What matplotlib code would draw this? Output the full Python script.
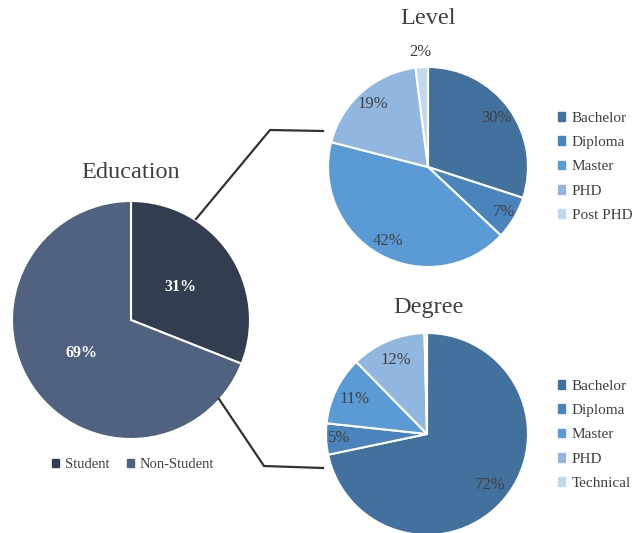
import numpy as np
import matplotlib.pyplot as plt
from matplotlib.lines import Line2D
from matplotlib.patches import Patch

plt.rcParams['font.family'] = ['Liberation Serif', 'DejaVu Serif']

# education split
edu_labels = ['Student', 'Non-Student']
edu_values = [31, 69]
edu_colors = ['#323e50', '#506280']

# level of students
level_labels = ['Bachelor', 'Diploma', 'Master', 'PHD', 'Post PHD']
level_values = [30, 7, 42, 19, 2]

# degree of non-students
degree_labels = ['Bachelor', 'Diploma', 'Master', 'PHD', 'Technical']
degree_values = [72, 5, 11, 12, 0.4]

blues = ['#41719c', '#4a84bd', '#5b9bd5', '#91b7e1', '#c3d8ef']
text_grey = '#404040'

W, H = 635, 533
fig = plt.figure(figsize=(W / 100, H / 100), dpi=100)


def pie_axes(cx, cy, r, pad=1.35):
    # axes centred on (cx, cy) pixels with a unit pie of radius r pixels
    s = r * pad
    ax = fig.add_axes([(cx - s) / W, (H - cy - s) / H, 2 * s / W, 2 * s / H])
    ax.set_aspect('equal')
    ax.axis('off')
    return ax


def draw_pie(ax, values, colors, dist, color, weight='normal', size=10, far=None):
    far = far or {}
    wedges, _ = ax.pie(values, colors=colors, startangle=90, counterclock=False,
                       wedgeprops=dict(edgecolor='white', linewidth=1.5))
    ax.set_xlim(-1.35, 1.35)
    ax.set_ylim(-1.35, 1.35)
    for i, (w, v) in enumerate(zip(wedges, values)):
        if v < 1:
            continue
        ang = np.deg2rad((w.theta1 + w.theta2) / 2)
        d = far.get(i, dist)
        ax.text(d * np.cos(ang), d * np.sin(ang), f'{v:g}%', ha='center', va='center',
                color=color, fontsize=size, fontweight=weight)
    return wedges


def side_legend(labels, top):
    fig.legend(handles=[Patch(color=c, label=l) for c, l in zip(blues, labels)],
               loc='upper left', bbox_to_anchor=(544 / W, 1 - top / H), frameon=False,
               handlelength=0.5, handleheight=0.5, handletextpad=0.4, labelspacing=0.74,
               fontsize=11, labelcolor=text_grey)


# main pie
ax_main = pie_axes(131, 320, 119)
draw_pie(ax_main, edu_values, edu_colors, 0.5, 'white', weight='bold', size=11.5)
fig.text(131 / W, 1 - 172 / H, 'Education', ha='center', va='center',
         fontsize=17.5, color=text_grey)
fig.legend(handles=[Patch(color=c, label=l) for c, l in zip(edu_colors, edu_labels)],
           loc='center', bbox_to_anchor=(133 / W, 1 - 465 / H), ncol=2, frameon=False,
           handlelength=0.5, handleheight=0.5, handletextpad=0.4, columnspacing=1.2,
           fontsize=10.5, labelcolor=text_grey)

# level pie
ax_level = pie_axes(428, 167, 100)
draw_pie(ax_level, level_values, blues, 0.84, text_grey, size=12, far={4: 1.15, 1: 0.88})
fig.text(428 / W, 1 - 18 / H, 'Level', ha='center', va='center',
         fontsize=17.5, color=text_grey)
side_legend(level_labels, 98)

# degree pie
ax_degree = pie_axes(427, 434, 101)
draw_pie(ax_degree, degree_values, blues, 0.8, text_grey, size=12, far={1: 0.87})
fig.text(428 / W, 1 - 308 / H, 'Degree', ha='center', va='center',
         fontsize=17.5, color=text_grey)
side_legend(degree_labels, 366)

# connectors from the main pie to the two breakdowns
for xs, ys in [([196, 270, 323], [219, 130, 131]), ([219, 264, 323], [399, 466, 468])]:
    fig.add_artist(Line2D([x / W for x in xs], [1 - y / H for y in ys],
                          transform=fig.transFigure, color='#333333', linewidth=1.6))

fig.savefig('out.png', dpi=100, facecolor='white')
